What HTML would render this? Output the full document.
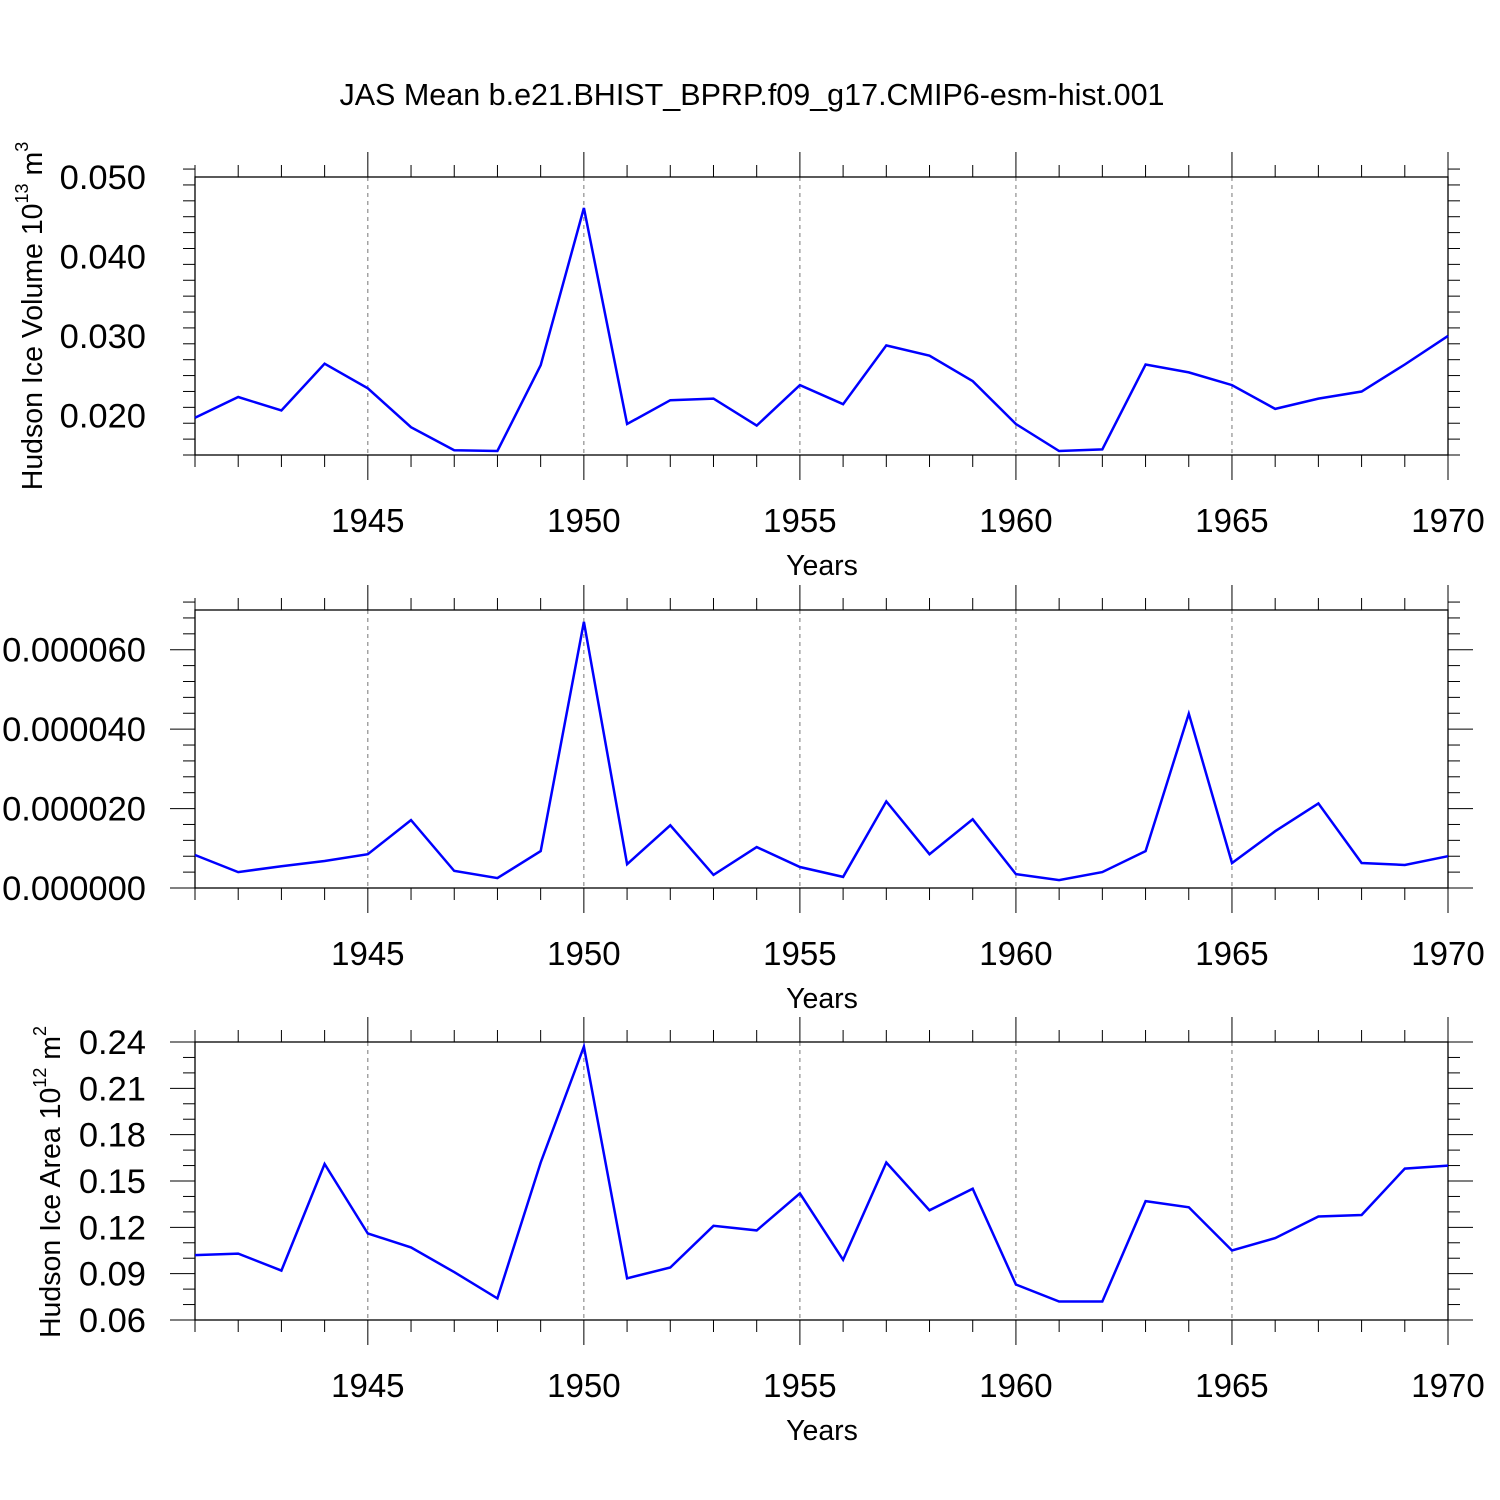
<!DOCTYPE html>
<html><head><meta charset="utf-8"><style>
html,body{margin:0;padding:0;background:#fff;}
svg{display:block;font-family:"Liberation Sans",Arial,sans-serif;}
</style></head><body>
<svg id="chart" width="1500" height="1500" viewBox="0 0 1500 1500" xmlns="http://www.w3.org/2000/svg">
<rect width="1500" height="1500" fill="#fff"/>
<text x="752" y="105" font-size="30.5" text-anchor="middle">JAS Mean b.e21.BHIST_BPRP.f09_g17.CMIP6-esm-hist.001</text>
<g id="plots"></g>
</svg>
<script>
const years = [1941,1942,1943,1944,1945,1946,1947,1948,1949,1950,1951,1952,1953,1954,1955,1956,1957,1958,1959,1960,1961,1962,1963,1964,1965,1966,1967,1968,1969,1970];
const volumeValues = [0.0197,0.0223,0.0206,0.0265,0.0234,0.0185,0.0156,0.0155,0.0263,0.0461,0.0189,0.0219,0.0221,0.0187,0.0238,0.0214,0.0288,0.0275,0.0243,0.0189,0.0155,0.0157,0.0264,0.0254,0.0238,0.0208,0.0221,0.0230,0.0264,0.0300];
const middleValues = [0.0000083,0.0000040,0.0000055,0.0000068,0.0000085,0.0000171,0.0000043,0.0000025,0.0000093,0.0000670,0.0000060,0.0000158,0.0000033,0.0000103,0.0000053,0.0000028,0.0000218,0.0000085,0.0000173,0.0000035,0.0000020,0.0000040,0.0000093,0.0000439,0.0000063,0.0000143,0.0000213,0.0000063,0.0000058,0.0000080];
const areaValues = [0.102,0.103,0.092,0.161,0.116,0.107,0.091,0.074,0.162,0.237,0.087,0.094,0.121,0.118,0.142,0.099,0.162,0.131,0.145,0.083,0.072,0.072,0.137,0.133,0.105,0.113,0.127,0.128,0.158,0.160];
const xTickLabels = [1945,1950,1955,1960,1965,1970];
const volTicks = ["0.020","0.030","0.040","0.050"];
const midTicks = ["0.000000","0.000020","0.000040","0.000060"];
const areaTicks = ["0.06","0.09","0.12","0.15","0.18","0.21","0.24"];

const NS="http://www.w3.org/2000/svg";
const g=document.getElementById('plots');
function mk(tag,attrs,parent){const e=document.createElementNS(NS,tag);for(const k in attrs)e.setAttribute(k,attrs[k]);(parent||g).appendChild(e);return e;}
const X0=195,X1=1448,Ymin=1941,Ymax=1970;
const xs=y=>X0+(y-Ymin)/(Ymax-Ymin)*(X1-X0);

const panels=[
 {name:'volume',top:177,bot:455,vmin:0.015,vmax:0.050,vals:volumeValues,ticks:volTicks,minor:0.002},
 {name:'middle',top:610,bot:888,vmin:0,vmax:0.00007,vals:middleValues,ticks:midTicks,minor:0.000004},
 {name:'area',top:1042,bot:1320,vmin:0.06,vmax:0.24,vals:areaValues,ticks:areaTicks,minor:0.01}
];
panels.forEach((p,pi)=>{
 const pg=mk('g',{});
 
 
 const ys=v=>p.bot-(v-p.vmin)/(p.vmax-p.vmin)*(p.bot-p.top);
 xTickLabels.forEach(yr=>{ if(yr<Ymax){const l=mk('line',{x1:xs(yr),x2:xs(yr),y1:p.top,y2:p.bot,stroke:'#777','stroke-width':1,'stroke-dasharray':'4,4'},pg);
  
  }});
 const fr=mk('rect',{x:X0,y:p.top,width:X1-X0,height:p.bot-p.top,fill:'none',stroke:'#000','stroke-width':1.3},pg);
 
 
 for(let yr=Ymin;yr<=Ymax;yr++){
  const maj=yr%5===0, len=maj?25:12, x=xs(yr);
  mk('line',{x1:x,x2:x,y1:p.top-len,y2:p.top,stroke:'#000','stroke-width':1},pg);
  mk('line',{x1:x,x2:x,y1:p.bot,y2:p.bot+len,stroke:'#000','stroke-width':1},pg);
 }
 xTickLabels.forEach(yr=>{const t=mk('text',{x:xs(yr),y:p.bot+77,'font-size':33,'text-anchor':'middle'},pg);t.textContent=yr;
  
  });
 const xt=mk('text',{x:822,y:p.bot+120,'font-size':28.5,'text-anchor':'middle'},pg);xt.textContent='Years';
 
 
 const nMin=Math.round((p.vmax-p.vmin)/p.minor);
 for(let i=0;i<=nMin;i++){
  const v=p.vmin+i*p.minor, y=ys(v);
  const isMaj=p.ticks.some(t=>Math.abs(parseFloat(t)-v)<p.minor/10);
  const len=isMaj?25:12;
  mk('line',{x1:X0-len,x2:X0,y1:y,y2:y,stroke:'#000','stroke-width':1},pg);
  mk('line',{x1:X1,x2:X1+len,y1:y,y2:y,stroke:'#000','stroke-width':1},pg);
 }
 p.ticks.forEach(t=>{const y=ys(parseFloat(t));const e=mk('text',{x:146,y:y+12,'font-size':34.5,'text-anchor':'end'},pg);e.textContent=t;
  
  });
 const pts=p.vals.map((v,i)=>xs(years[i]).toFixed(1)+','+ys(v).toFixed(1)).join(' ');
 const pl=mk('polyline',{points:pts,fill:'none',stroke:'#0000ff','stroke-width':2.5,'stroke-linejoin':'miter'},pg);
 
 
});
function ytitle(cx,cy,main,exp,unit,uexp,name){
 const t=mk('text',{transform:`translate(${cx},${cy}) rotate(-90)`,'font-size':28.5,'text-anchor':'middle'});
 
 
 t.innerHTML=`${main}<tspan font-size="18" dy="-14">${exp}</tspan><tspan dy="14"> ${unit}</tspan><tspan font-size="18" dy="-14">${uexp}</tspan>`;
}
ytitle(42,316,'Hudson Ice Volume 10','13','m','3','volume-y-axis-title');
ytitle(60,1182,'Hudson Ice Area 10','12','m','2','area-y-axis-title');
</script>
</body></html>
